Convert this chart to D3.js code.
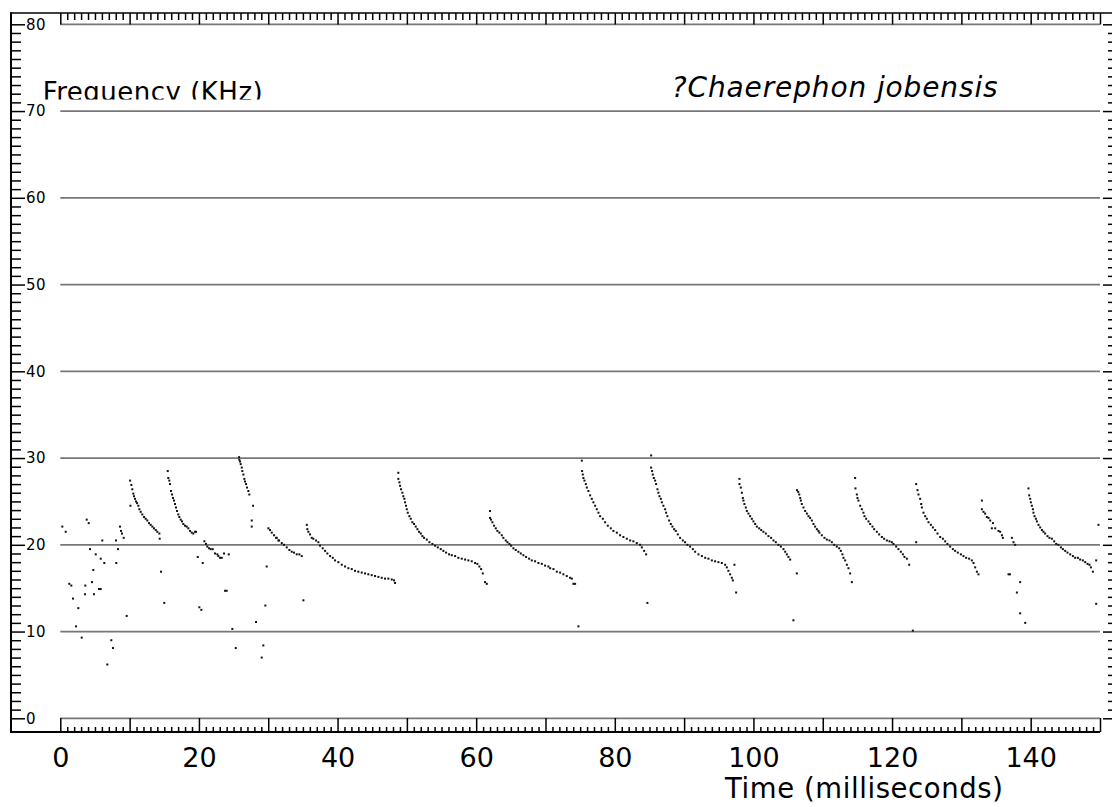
<!DOCTYPE html>
<meta charset="utf-8">
<style>
    body { margin: 0; background: #fff; }
    svg { display: block; font-family: "DejaVu Sans", Verdana, sans-serif; }
    .tick text { fill: #000; font-family: "DejaVu Sans", Verdana, sans-serif; }
    .small text { font-size: 15px; letter-spacing: 0.5px; }
    .big text { font-size: 27px; }
</style>
<svg width="1112" height="807"></svg>
<script src="https://d3js.org/d3.v7.min.js"></script>
<script>

    // tick labels
    var xLabels = [0, 20, 40, 60, 80, 100, 120, 140],
        yLabels = [0, 10, 20, 30, 40, 50, 60, 70, 80],
        gridLevels = [0, 10, 20, 30, 40, 50, 60, 70, 80];

    // each call: [time ms, frequency kHz]
    var call01 = [[10.07,27.4],[10.25,26.9],[10.39,26.4],[10.53,25.9],[10.63,25.6],[10.78,25.3],[10.92,25.0],[11.07,24.8],[11.26,24.5],[11.40,24.1],[11.60,23.8],[11.83,23.5],[12.08,23.2],[12.32,23.0],[12.55,22.8],[12.80,22.5],[13.04,22.3],[13.28,22.1],[13.52,21.9],[13.77,21.7],[14.00,21.5],[14.29,21.3],[14.34,20.7]];
    var call02 = [[15.50,28.5],[15.58,27.7],[15.73,27.4],[15.83,27.0],[15.97,26.2],[16.12,25.8],[16.26,25.4],[16.40,25.1],[16.55,24.7],[16.69,24.3],[16.84,23.9],[17.03,23.5],[17.17,23.2],[17.37,22.9],[17.56,22.7],[17.75,22.4],[17.99,22.2],[18.24,22.1],[18.47,21.9],[18.72,21.6],[18.96,21.4],[19.19,21.3],[19.44,21.5],[19.58,21.5],
        [20.78,20.4],[21.02,20.1],[21.21,19.8],[21.46,19.6],[21.70,19.5],[21.99,19.5],[22.32,19.0],[22.66,18.9],[22.80,18.7],[23.05,18.5],[23.29,18.5],[23.62,19.0],[24.30,18.9]];
    var call03 = [[25.79,30.1],[25.83,29.8],[25.93,29.6],[26.03,29.3],[26.18,28.9],[26.26,28.5],[26.41,28.1],[26.55,27.6],[26.65,27.3],[26.80,27.0],[26.94,26.6],[27.13,26.2],[27.27,25.8]];
    var call04 = [[30.02,21.9],[30.26,21.7],[30.51,21.4],[30.84,21.1],[31.13,20.8],[31.23,20.8],[31.46,20.5],[31.56,20.5],[31.95,20.2],[32.28,20.0],[32.67,19.7],[33.05,19.4],[33.39,19.2],[33.72,19.1],[34.11,18.9],[34.49,18.9],[34.83,18.7]];
    var call05 = [[35.56,22.3],[35.64,21.8],[35.79,21.5],[36.03,21.2],[36.28,20.8],[36.51,20.7],[36.90,20.5],[37.23,20.3],[37.47,19.9],[37.86,19.6],[38.20,19.3],[38.53,19.0],[38.92,18.7],[39.31,18.5],[39.64,18.2],[40.12,18.0],[40.61,17.7],[41.08,17.5],[41.56,17.3],[42.05,17.2],[42.52,17.0],[43.00,16.9],[43.49,16.8],[43.97,16.7],[44.44,16.6],[44.93,16.5],[45.41,16.4],[45.89,16.3],[46.38,16.2],[46.85,16.1],[47.33,16.1],[47.82,16.0],[48.15,15.9],[48.30,15.6]];
    var call06 = [[48.77,28.3],[48.77,27.6],[48.92,27.2],[49.02,26.8],[49.16,26.4],[49.35,26.0],[49.49,25.6],[49.64,25.3],[49.74,24.9],[49.88,24.5],[49.99,24.1],[50.13,23.7],[50.36,23.3],[50.56,23.0],[50.79,22.6],[51.04,22.4],[51.28,22.1],[51.52,21.8],[51.76,21.5],[52.01,21.3],[52.24,21.0],[52.48,20.8],[52.87,20.6],[53.25,20.3],[53.68,20.1],[54.07,19.9],[54.46,19.7],[54.89,19.5],[55.27,19.3],[55.66,19.1],[56.09,18.9],[56.48,18.8],[56.96,18.7],[57.43,18.5],[57.92,18.4],[58.40,18.3],[58.87,18.2],[59.36,18.1],[59.84,17.9],[60.17,17.8],[60.46,17.5],[60.71,17.2],[60.95,16.7],[61.28,15.7],[61.53,15.5]];
    var call07 = [[61.99,23.9],[61.99,23.1],[62.14,22.9],[62.34,22.6],[62.58,22.2],[62.83,21.9],[63.06,21.6],[63.35,21.4],[63.69,21.1],[63.92,20.8],[64.27,20.5],[64.51,20.3],[64.79,20.1],[65.04,19.9],[65.37,19.6],[65.71,19.4],[66.09,19.2],[66.44,19.0],[66.81,18.8],[67.20,18.6],[67.64,18.4],[68.02,18.2],[68.50,18.1],[68.98,17.9],[69.47,17.8],[69.94,17.6],[70.42,17.5],[70.67,17.3],[71.15,17.2],[71.63,16.9],[72.11,16.8],[72.58,16.6],[73.07,16.4],[73.55,16.2],[73.80,16.1],[74.03,15.5],[74.27,15.5]];
    var call08 = [[75.24,29.7],[75.28,28.5],[75.38,28.1],[75.47,27.7],[75.62,27.4],[75.82,27.0],[75.96,26.6],[76.19,26.2],[76.44,25.7],[76.68,25.3],[76.91,24.9],[77.16,24.5],[77.40,24.1],[77.64,23.7],[77.88,23.3],[78.27,23.0],[78.60,22.6],[78.99,22.2],[79.42,21.9],[79.80,21.6],[80.29,21.4],[80.76,21.1],[81.24,20.9],[81.73,20.7],[82.21,20.5],[82.68,20.4],[83.17,20.2],[83.65,20.0],[83.90,19.7],[84.23,19.3],[84.52,18.9]];
    var call09 = [[85.24,30.3],[85.24,28.9],[85.38,28.5],[85.48,28.1],[85.63,27.7],[85.82,27.4],[85.96,27.0],[86.15,26.4],[86.29,26.0],[86.44,25.6],[86.64,25.3],[86.78,24.9],[87.01,24.5],[87.26,24.1],[87.40,23.7],[87.59,23.3],[87.84,22.8],[88.08,22.4],[88.31,22.1],[88.56,21.8],[88.80,21.6],[89.09,21.2],[89.42,20.8],[89.81,20.5],[90.14,20.3],[90.48,20.0],[90.87,19.8],[91.26,19.5],[91.59,19.2],[92.07,18.9],[92.56,18.7],[93.04,18.5],[93.51,18.4],[94.00,18.2],[94.47,18.1],[94.95,18.0],[95.44,17.9],[95.92,17.7],[96.16,17.4],[96.39,17.0],[96.64,16.6],[96.88,16.2],[97.03,15.9]];
    var call10 = [[97.98,27.6],[97.98,27.0],[98.18,26.6],[98.33,26.0],[98.47,25.4],[98.56,25.1],[98.70,24.7],[98.90,24.3],[99.05,23.9],[99.28,23.6],[99.52,23.3],[99.77,23.0],[100.00,22.7],[100.25,22.4],[100.49,22.1],[100.83,21.9],[101.12,21.7],[101.44,21.5],[101.79,21.3],[102.17,21.0],[102.55,20.8],[102.89,20.5],[103.23,20.3],[103.61,20.0],[103.96,19.8],[104.33,19.5],[104.58,19.2],[104.82,18.9],[105.05,18.6],[105.30,18.3]];
    var call11 = [[106.28,26.3],[106.46,26.1],[106.61,25.8],[106.75,25.4],[106.84,25.1],[106.98,24.7],[107.22,24.3],[107.46,23.9],[107.71,23.6],[107.94,23.3],[108.18,23.1],[108.43,22.8],[108.66,22.4],[108.90,22.1],[109.15,21.8],[109.38,21.6],[109.52,21.4],[109.87,21.1],[110.25,20.8],[110.59,20.6],[110.97,20.5],[111.31,20.3],[111.65,20.0],[112.03,19.8],[112.37,19.6],[112.61,19.3],[112.84,18.9],[112.99,18.5],[113.23,18.2],[113.48,17.7],[113.71,17.3],[113.95,16.7],[114.20,15.7]];
    var call12 = [[114.67,27.7],[114.72,26.5],[114.92,25.8],[115.01,25.4],[115.15,25.1],[115.40,24.5],[115.64,24.1],[115.87,23.7],[116.02,23.3],[116.26,23.0],[116.60,22.7],[116.84,22.4],[117.17,22.1],[117.42,21.8],[117.81,21.5],[118.14,21.2],[118.53,20.9],[118.86,20.7],[119.25,20.5],[119.63,20.4],[119.97,20.3],[120.20,20.1],[120.59,19.8],[120.92,19.5],[121.27,19.2],[121.56,18.9],[121.79,18.6],[122.14,18.4],[122.47,17.7]];
    var call13 = [[123.48,27.0],[123.67,26.3],[123.81,25.8],[124.05,25.3],[124.20,24.7],[124.30,24.3],[124.53,23.7],[124.78,23.3],[125.02,23.0],[125.26,22.6],[125.60,22.3],[125.89,22.0],[126.22,21.7],[126.55,21.3],[126.94,20.9],[127.33,20.7],[127.66,20.4],[127.99,20.1],[128.38,19.8],[128.77,19.5],[129.10,19.3],[129.49,19.1],[129.93,18.9],[130.30,18.7],[130.69,18.5],[131.12,18.4],[131.51,18.2],[131.75,17.9],[131.99,17.4],[132.24,16.9],[132.47,16.6]];
    var call14 = [[132.96,25.1],[132.96,24.1],[133.19,23.8],[133.43,23.6],[133.68,23.2],[133.91,23.1],[134.16,22.8],[134.40,21.9],[134.55,22.5],[134.88,21.9],[135.36,21.6],[135.60,21.5],[135.85,21.1],[135.99,20.8],[137.29,20.8],[137.52,20.3],[137.76,20.0]];
    var call15 = [[139.68,26.5],[139.78,25.7],[139.93,25.3],[140.03,24.9],[140.17,24.5],[140.32,24.1],[140.40,23.7],[140.55,23.3],[140.75,23.0],[140.89,22.7],[141.13,22.3],[141.37,22.0],[141.62,21.7],[141.85,21.5],[142.09,21.3],[142.42,21.0],[142.71,20.8],[143.06,20.7],[143.39,20.4],[143.68,20.1],[144.01,20.0],[144.36,19.7],[144.65,19.5],[144.98,19.3],[145.31,19.1],[145.70,18.9],[146.09,18.7],[146.42,18.5],[146.81,18.5],[147.14,18.3],[147.53,18.2],[147.86,18.0],[148.20,17.8],[148.48,17.7],[148.69,17.4],[148.97,16.9]];

    // stray dots
    var noise = [[0.29,22.1],[0.78,21.5],[1.30,15.5],[1.59,15.3],[1.83,13.8],[2.27,10.6],[2.60,12.7],[3.09,9.3],[3.81,22.9],[4.10,22.5],[3.61,15.3],[3.56,14.3],[4.29,19.5],[4.57,15.7],[4.76,17.1],[4.86,14.3],[5.11,18.9],[5.58,14.9],[5.83,14.9],[5.83,18.4],[6.06,20.5],[6.35,17.9],[6.78,6.2],[7.36,9.0],[7.60,8.1],[8.04,20.5],[8.08,17.9],[8.33,19.5],[8.61,22.1],[8.76,21.6],[8.90,21.3],[9.15,20.8],[9.58,11.8],[10.12,24.5],
        [14.53,16.9],[15.00,13.3],[19.83,18.6],[20.55,17.9],[20.06,12.8],[20.35,12.5],[23.77,14.7],[24.00,14.7],[24.82,10.3],[25.31,8.1],
        [27.81,24.5],[27.62,22.8],[27.62,22.1],[28.24,11.1],[29.58,13.0],[29.78,17.5],[29.29,8.4],[29.06,7.0],[35.07,13.6],
        [74.75,10.6],[84.70,13.3],[97.26,17.7],[97.50,14.5],[106.26,16.7],[105.77,11.3],[123.48,20.3],[123.00,10.1],
        [136.80,16.6],[137.00,16.6],[138.48,15.7],[138.01,14.5],[138.48,12.1],[139.21,11.0],[149.78,22.3],[149.45,18.2],[149.45,13.2]];

    var svg = d3.select("svg"),
        x = d3.scaleLinear().domain([0, 150]).range([60.3, 1100]),
        y = d3.scaleLinear().domain([0, 80]).range([718.3, 24.3]);

    var majorX = d3.range(0, 151, 10),
        minorX = d3.range(0, 151, 1).filter(function (d) { return d % 10; }),
        majorY = d3.range(0, 81, 10),
        minorY = d3.range(0, 81, 1).filter(function (d) { return d % 10; });

    svg.append("rect").attr("width", 1112).attr("height", 807).attr("fill", "#fff");

    svg.append("clipPath").attr("id", "clipFreq")
        .append("rect").attr("x", 0).attr("y", 0).attr("width", 400).attr("height", 99.5);

    // horizontal grid lines
    svg.append("g").selectAll("line")
        .data(gridLevels)
        .enter().append("line")
        .attr("x1", x(0)).attr("x2", x(150))
        .attr("y1", function (d) { return y(d); })
        .attr("y2", function (d) { return y(d); })
        .attr("stroke", "#777").attr("stroke-width", 1.7);

    function noDomain(g) { g.select(".domain").remove(); }

    // frame lines
    svg.append("line").attr("x1", 11).attr("x2", 11).attr("y1", 12.5).attr("y2", 732.5)
        .attr("stroke", "#000").attr("stroke-width", 2);
    svg.append("line").attr("x1", 10).attr("x2", 1112).attr("y1", 13).attr("y2", 13)
        .attr("stroke", "#000").attr("stroke-width", 1.6);
    svg.append("line").attr("x1", 10).attr("x2", x(150)).attr("y1", 732).attr("y2", 732)
        .attr("stroke", "#000").attr("stroke-width", 1.8);

    // left axis
    svg.append("g").attr("transform", "translate(11,0)")
        .call(d3.axisRight(y).tickValues(minorY).tickSize(10).tickFormat(""))
        .call(noDomain);
    svg.append("g").attr("class", "small").attr("transform", "translate(11,0)")
        .call(d3.axisRight(y).tickValues(yLabels).tickSize(14).tickPadding(1).tickFormat(d3.format("d")))
        .call(noDomain);

    // right axis, mostly off the edge
    svg.append("g").attr("transform", "translate(1116,0)")
        .call(d3.axisLeft(y).tickValues(minorY).tickSize(8).tickFormat(""))
        .call(noDomain);
    svg.append("g").attr("transform", "translate(1116,0)")
        .call(d3.axisLeft(y).tickValues(majorY).tickSize(13).tickFormat(""))
        .call(noDomain);

    // top ruler
    svg.append("g").attr("transform", "translate(0,13)")
        .call(d3.axisBottom(x).tickValues(minorX).tickSize(7).tickFormat(""))
        .call(noDomain);
    svg.append("g").attr("transform", "translate(0,13)")
        .call(d3.axisBottom(x).tickValues(majorX).tickSize(11.5).tickFormat(""))
        .call(noDomain);

    // bottom ruler
    svg.append("g").attr("transform", "translate(0,732)")
        .call(d3.axisTop(x).tickValues(minorX).tickSize(5).tickFormat(""))
        .call(noDomain);
    svg.append("g").attr("transform", "translate(0,732)")
        .call(d3.axisTop(x).tickValues(majorX).tickSize(14).tickFormat(""))
        .call(noDomain);

    svg.selectAll(".tick line").attr("stroke", "#000").attr("stroke-width", 1.5);

    // big time labels
    svg.append("g").attr("class", "big").attr("transform", "translate(0,740)")
        .call(d3.axisBottom(x).tickValues(xLabels).tickSize(0).tickPadding(8))
        .call(noDomain);

    // dots
    var points = [].concat(call01, call02, call03, call04, call05, call06, call07, call08,
        call09, call10, call11, call12, call13, call14, call15, noise);

    svg.append("g").selectAll("rect")
        .data(points)
        .enter().append("rect")
        .attr("x", function (d) { return x(d[0]) - 1; })
        .attr("y", function (d) { return y(d[1]) - 1; })
        .attr("width", 2).attr("height", 2)
        .attr("fill", "#111");

    // titles
    svg.append("text").attr("clip-path", "url(#clipFreq)")
        .attr("x", 42.7).attr("y", 100.8)
        .attr("font-size", 26).attr("textLength", 220)
        .text("Frequency (KHz)");

    svg.append("text")
        .attr("x", 671.7).attr("y", 96.7)
        .attr("font-size", 28).attr("font-style", "italic").attr("textLength", 326)
        .text("?Chaerephon jobensis");

    svg.append("text")
        .attr("x", 725).attr("y", 798.3)
        .attr("font-size", 27.5).attr("textLength", 278)
        .text("Time (milliseconds)");
</script>
